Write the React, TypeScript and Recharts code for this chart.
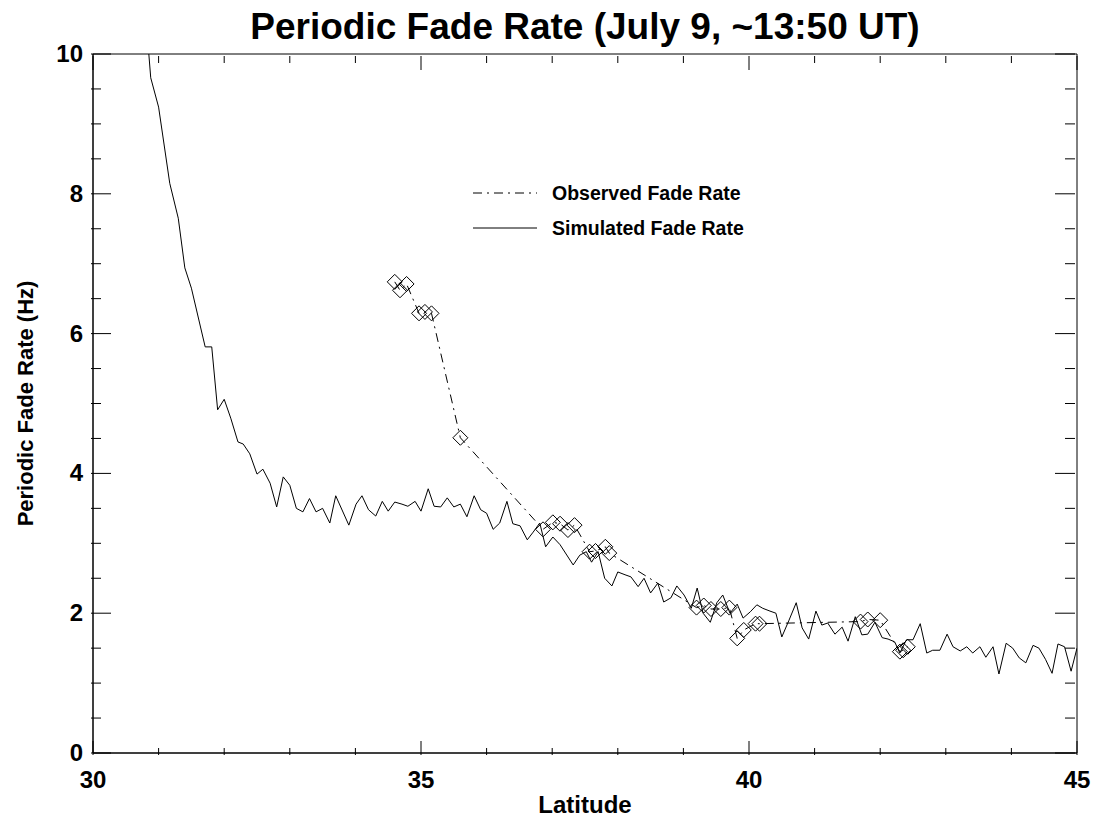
import { LineChart, Line, XAxis, YAxis, ReferenceArea } from 'recharts';

// simulated fade rate (lat in degrees, rate in Hz)
const simLat = [
  30.8, 30.88, 31.0, 31.17, 31.3, 31.4, 31.5, 31.71, 31.81, 31.9,
  32.0, 32.1, 32.21, 32.29, 32.39, 32.5, 32.59, 32.7, 32.8, 32.9,
  33.0, 33.1, 33.2, 33.3, 33.4, 33.5, 33.61, 33.7, 33.9, 34.01,
  34.1, 34.2, 34.31, 34.41, 34.5, 34.6, 34.71, 34.8, 34.91, 35.0,
  35.11, 35.2, 35.3, 35.4, 35.5, 35.6, 35.7, 35.81, 35.91, 36.0,
  36.1, 36.2, 36.31, 36.4, 36.51, 36.62, 36.71, 36.81, 36.9, 37.01,
  37.12, 37.32, 37.42, 37.52, 37.6, 37.7, 37.8, 37.91, 38.0, 38.11,
  38.2, 38.31, 38.4, 38.5, 38.61, 38.7, 38.81, 38.9, 39.01, 39.12,
  39.21, 39.3, 39.41, 39.51, 39.6, 39.71, 39.82, 39.91, 40.02, 40.12,
  40.21, 40.32, 40.41, 40.5, 40.61, 40.72, 40.81, 40.91, 41.02, 41.11,
  41.2, 41.31, 41.42, 41.51, 41.62, 41.72, 41.81, 41.92, 42.03, 42.12,
  42.22, 42.3, 42.4, 42.5, 42.61, 42.71, 42.8, 42.91, 43.02, 43.11,
  43.22, 43.32, 43.41, 43.52, 43.61, 43.72, 43.81, 43.92, 44.02, 44.12,
  44.22, 44.33, 44.42, 44.52, 44.62, 44.71, 44.81, 44.91, 45.0,
];
const simRate = [
  10.6, 9.66, 9.24, 8.15, 7.65, 6.94, 6.65, 5.81, 5.81, 4.91,
  5.06, 4.79, 4.45, 4.42, 4.28, 3.99, 4.06, 3.86, 3.52, 3.95,
  3.83, 3.5, 3.45, 3.64, 3.45, 3.5, 3.29, 3.68, 3.26, 3.56,
  3.68, 3.48, 3.39, 3.6, 3.46, 3.59, 3.56, 3.53, 3.6, 3.46,
  3.78, 3.53, 3.52, 3.65, 3.52, 3.56, 3.38, 3.68, 3.48, 3.43,
  3.2, 3.29, 3.6, 3.28, 3.25, 3.05, 3.16, 3.29, 2.95, 3.09,
  2.98, 2.69, 2.83, 2.88, 2.73, 2.88, 2.5, 2.39, 2.59, 2.55,
  2.52, 2.38, 2.5, 2.29, 2.43, 2.16, 2.22, 2.39, 2.26, 2.07,
  2.36, 2.0, 1.87, 2.15, 2.26, 2.0, 2.13, 1.93, 2.02, 2.12,
  2.07, 2.03, 2.0, 1.66, 1.9, 2.15, 1.79, 1.63, 2.03, 1.83,
  1.86, 1.7, 1.8, 1.6, 1.95, 1.69, 1.7, 1.87, 1.65, 1.63,
  1.59, 1.43, 1.62, 1.62, 1.85, 1.43, 1.47, 1.47, 1.7, 1.52,
  1.46, 1.52, 1.43, 1.52, 1.37, 1.52, 1.13, 1.57, 1.5, 1.36,
  1.29, 1.54, 1.5, 1.34, 1.14, 1.56, 1.52, 1.17, 1.5,
];

// observed fade rate (diamonds)
const obsLat = [
  34.6, 34.68, 34.78, 34.97, 35.06, 35.16, 35.6, 36.86, 37.01, 37.12,
  37.24, 37.34, 37.57, 37.66, 37.81, 37.87, 39.2, 39.31, 39.42, 39.57,
  39.7, 39.82, 39.92, 40.1, 40.16, 41.7, 41.81, 42.0, 42.3, 42.35, 42.42,
];
const obsRate = [
  6.74, 6.62, 6.71, 6.29, 6.31, 6.29, 4.51, 3.2, 3.3, 3.28,
  3.19, 3.26, 2.88, 2.89, 2.95, 2.86, 2.08, 2.11, 2.06, 2.06,
  2.08, 1.64, 1.76, 1.85, 1.85, 1.88, 1.91, 1.9, 1.45, 1.47, 1.52,
];

const xTicks = [30, 31, 32, 33, 34, 35, 36, 37, 38, 39, 40, 41, 42, 43, 44, 45];
const xMajor = [30, 35, 40, 45];
const yTicks = [
  0, 0.5, 1, 1.5, 2, 2.5, 3, 3.5, 4, 4.5, 5, 5.5, 6, 6.5, 7, 7.5, 8, 8.5, 9, 9.5, 10,
];
const yMajor = [0, 2, 4, 6, 8, 10];

const simulated = simLat.map((lat, i) => ({ lat, rate: simRate[i] }));
const observed = obsLat.map((lat, i) => ({ lat, rate: obsRate[i] }));

const FONT = '"Liberation Sans", Arial, Helvetica, sans-serif';
const DASHDOT = '9 5 2 5';
// plot box size, used to mirror tick marks onto the top and right edges
const PLOT_W = 984;
const PLOT_H = 699;

const BottomTick = ({ x, y, payload }: any) => {
  const major = xMajor.includes(payload.value);
  const len = major ? 14 : 7;
  return (
    <g>
      <line x1={x} x2={x} y1={y} y2={y - len} stroke="#000" />
      <line x1={x} x2={x} y1={y - PLOT_H} y2={y - PLOT_H + len} stroke="#000" />
      {major && (
        <text x={x} y={y + 33} textAnchor="middle" fontSize={24} fontWeight="bold" fontFamily={FONT} fill="#000">
          {payload.value}
        </text>
      )}
    </g>
  );
};

const LeftTick = ({ x, y, payload }: any) => {
  const major = yMajor.includes(payload.value);
  const len = major ? 20 : 10;
  return (
    <g>
      <line x1={x} x2={x + len} y1={y} y2={y} stroke="#000" />
      <line x1={x + PLOT_W} x2={x + PLOT_W - len} y1={y} y2={y} stroke="#000" />
      {major && (
        <text x={x - 8} y={y + 8} textAnchor="end" fontSize={24} fontWeight="bold" fontFamily={FONT} fill="#000">
          {payload.value}
        </text>
      )}
    </g>
  );
};

const YTitle = ({ viewBox }: any) => {
  const cx = viewBox.x + 25;
  const cy = viewBox.y + viewBox.height / 2;
  return (
    <text
      x={cx}
      y={cy}
      transform={`rotate(-90 ${cx} ${cy})`}
      textAnchor="middle"
      dominantBaseline="central"
      fontSize={22}
      fontWeight="bold"
      fontFamily={FONT}
      fill="#000"
    >
      Periodic Fade Rate (Hz)
    </text>
  );
};

const Diamond = (props: any) => {
  const { cx, cy } = props;
  if (cx == null || cy == null) return <g key={props.index} />;
  const r = 7.5;
  return (
    <polygon
      key={props.index}
      points={`${cx},${cy - r} ${cx + r},${cy} ${cx},${cy + r} ${cx - r},${cy}`}
      fill="none"
      stroke="#000"
      strokeWidth={1}
    />
  );
};

export default function App() {
  return (
    <div style={{ position: 'absolute', left: 0, top: 0, width: 1109, height: 823, background: '#fff', fontFamily: FONT }}>
      <div
        style={{
          position: 'absolute',
          left: 93,
          width: 984,
          top: 6,
          textAlign: 'center',
          fontSize: 37,
          fontWeight: 'bold',
          lineHeight: '42px',
        }}
      >
        Periodic Fade Rate (July 9, ~13:50 UT)
      </div>

      <LineChart width={1109} height={823} margin={{ top: 54, right: 32, bottom: 0, left: 0 }}>
        <XAxis
          xAxisId="bottom"
          type="number"
          dataKey="lat"
          domain={[30, 45]}
          allowDataOverflow
          ticks={xTicks}
          interval={0}
          tickSize={0}
          tickLine={false}
          height={70}
          axisLine={{ stroke: '#000' }}
          tick={<BottomTick />}
          label={{ value: 'Latitude', position: 'insideBottom', offset: 10, fontSize: 24, fontWeight: 'bold', fill: '#000', fontFamily: FONT }}
        />
        <YAxis
          yAxisId="left"
          type="number"
          domain={[0, 10]}
          allowDataOverflow
          ticks={yTicks}
          interval={0}
          tickSize={0}
          tickLine={false}
          width={93}
          axisLine={{ stroke: '#000' }}
          tick={<LeftTick />}
          label={<YTitle />}
        />
        <ReferenceArea
          xAxisId="bottom"
          yAxisId="left"
          x1={30}
          x2={45}
          y1={0}
          y2={10}
          fill="none"
          fillOpacity={0}
          stroke="#000"
          strokeWidth={1}
          ifOverflow="visible"
        />
        <Line
          xAxisId="bottom"
          yAxisId="left"
          data={simulated}
          dataKey="rate"
          type="linear"
          stroke="#000"
          strokeWidth={1}
          dot={false}
          isAnimationActive={false}
        />
        <Line
          xAxisId="bottom"
          yAxisId="left"
          data={observed}
          dataKey="rate"
          type="linear"
          stroke="#000"
          strokeWidth={1}
          strokeDasharray={DASHDOT}
          dot={(p: any) => <Diamond key={p.index} {...p} />}
          activeDot={false}
          isAnimationActive={false}
        />
      </LineChart>

      <div style={{ position: 'absolute', left: 473, top: 180, fontSize: 19.5, fontWeight: 'bold', lineHeight: '26px' }}>
        <div style={{ display: 'flex', alignItems: 'center', height: 26, marginBottom: 9 }}>
          <svg width={64} height={4} style={{ marginRight: 15 }}>
            <line x1={0} x2={64} y1={2} y2={2} stroke="#000" strokeDasharray={DASHDOT} />
          </svg>
          Observed Fade Rate
        </div>
        <div style={{ display: 'flex', alignItems: 'center', height: 26 }}>
          <svg width={64} height={4} style={{ marginRight: 15 }}>
            <line x1={0} x2={64} y1={2} y2={2} stroke="#000" />
          </svg>
          Simulated Fade Rate
        </div>
      </div>
    </div>
  );
}
